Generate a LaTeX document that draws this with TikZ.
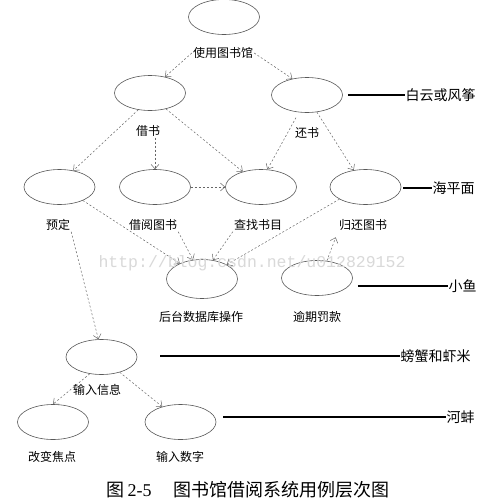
\documentclass[tikz,border=0pt]{standalone}
\usepackage{fontspec}
\newfontfamily\cjk{Noto Sans CJK SC}
\newfontfamily\wmfont{Liberation Mono}
\newfontfamily\serifnum{Liberation Serif}
\usetikzlibrary{shapes.geometric,arrows.meta,calc}
\begin{document}
\begin{tikzpicture}[x=1pt,y=-1pt,
  uc/.style={ellipse, draw=black!65, line width=0.6pt, minimum width=71pt, minimum height=35pt, inner sep=0pt, fill=white},
  lbl/.style={font=\cjk\fontsize{12}{14}\selectfont, inner sep=1pt},
  lvl/.style={font=\cjk\fontsize{14}{16}\selectfont, anchor=west, inner sep=0.5pt},
  dep/.style={draw=black!60, dash pattern=on 2pt off 2pt, line width=0.5pt, -{Straight Barb[length=4.5pt,width=8pt]}},
  lev/.style={draw=black, line width=1.7pt}]
\useasboundingbox[fill=white] (0,0) rectangle (489,504);
% use cases
\node[uc] (e1) at (224,17) {};
\node[uc] (e2) at (150,93) {};
\node[uc] (e3) at (307,95) {};
\node[uc] (e4) at (59.5,187) {};
\node[uc] (e5) at (155,187) {};
\node[uc] (e6) at (261,187) {};
\node[uc] (e7) at (365.5,187) {};
\node[uc, minimum height=39pt] (e8) at (202,279) {};
\node[uc] (e9) at (317,278) {};
\node[uc] (e10) at (101.5,357) {};
\node[uc] (e11) at (53,422) {};
\node[uc] (e12) at (180.5,422) {};
% labels
\node[lbl] (use) at (223,53) {使用图书馆};
\node[lbl] (jie) at (148,131) {借书};
\node[lbl] (huan) at (307,133) {还书};
\node[lbl] (yd) at (58,225) {预定};
\node[lbl] (jy) at (153,225) {借阅图书};
\node[lbl] (cz) at (258,225) {查找书目};
\node[lbl] (gh) at (363,225) {归还图书};
\node[lbl] (ht) at (201,317) {后台数据库操作};
\node[lbl] (yq) at (317,317) {逾期罚款};
\node[lbl] (sr) at (97,390) {输入信息};
\node[lbl] (gb) at (52,457) {改变焦点};
\node[lbl] (sz) at (180,457) {输入数字};
% level labels
\node[lvl] (l1) at (405,95) {白云或风筝};
\node[lvl] (l2) at (432,188) {海平面};
\node[lvl] (l3) at (448,286) {小鱼};
\node[lvl] (l4) at (400,356) {螃蟹和虾米};
\node[lvl] (l5) at (446,417) {河蚌};
\draw[lev] ([xshift=5pt]e3.east |- l1.west) -- (l1.west);
\draw[lev] ([xshift=2pt]e7.east |- l2.west) -- (l2.west);
\draw[lev] ([xshift=5pt]e9.east |- l3.west) -- (l3.west);
\draw[lev] ([xshift=23pt]e10.east |- l4.west) -- (l4.west);
\draw[lev] ([xshift=7pt]e12.east |- l5.west) -- (l5.west);
% dependencies
\draw[dep] (use.west) -- (e2.47);
\draw[dep] (use.east) -- (e3.132);
\draw[dep] (e2.-125) -- (e4.50);
\draw[dep] (jie.south -| e5.north) -- (e5.north);
\draw[dep] (e2.-45) -- (e6.140);
\draw[dep, shorten <=6pt] (e3.-115) -- (e6.70);
\draw[dep] (e3.-60) -- (e7.125);
\draw[dep] (e5.east) -- (e6.west);
\draw[dep] (e4.-30) -- (e8.145);
\draw[dep] (jy.south east) -- (e8.115);
\draw[dep] (cz.south west) -- (e8.60);
\draw[dep] (e7.-155) -- (e8.30);
\draw[dep, shorten >=6pt] (e9.60) -- (gh.south west);
\draw[dep] (yd.south east) -- (e10.100);
\draw[dep] (e10.-125) -- (e11.north);
\draw[dep] (e10.-40) -- (e12.140);
% watermark
\node[font=\wmfont\fontsize{16.5}{18}\selectfont, text=black!15] (wm) at (252,263) {http://blog.csdn.net/u012829152};
% caption
\node[font=\cjk\fontsize{18}{20}\selectfont, inner sep=0pt] (cap) at (248,490) {图\,{\serifnum 2-5}\hspace{1.2em}图书馆借阅系统用例层次图};
\end{tikzpicture}
\end{document}
